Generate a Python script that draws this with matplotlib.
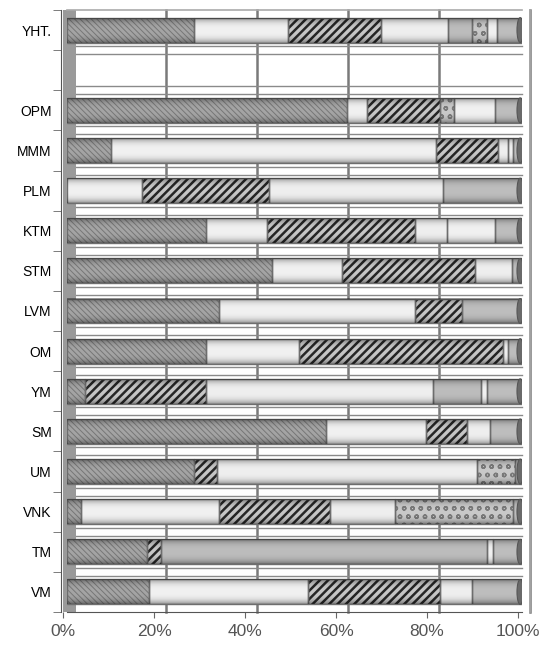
import matplotlib
matplotlib.use("Agg")
import matplotlib.pyplot as plt
import matplotlib.transforms as mtransforms
from matplotlib.patches import Rectangle, Ellipse
import numpy as np

categories = ["VM", "TM", "VNK", "UM", "SM", "YM", "OM", "LVM", "STM", "KTM",
              "PLM", "MMM", "OPM", "", "YHT."]

s1 = [18.0, 17.6, 3.0, 28.0, 57.0, 4.0, 30.6, 33.3, 45.0, 30.6, 0.0, 9.7, 61.5, 0, 28.0]
s2 = [34.9, 0.0, 30.5, 0.0, 22.0, 0.0, 20.4, 43.1, 15.4, 13.4, 16.5, 71.3, 4.5, 0, 20.5]
s3 = [29.1, 3.1, 24.2, 5.0, 9.0, 26.6, 44.8, 10.4, 29.2, 32.4, 28.0, 13.7, 16.0, 0, 20.5]
s4 = [7.0, 0.0, 14.3, 57.0, 5.0, 49.8, 1.2, 0.0, 8.2, 7.1, 38.1, 2.3, 0.0, 0, 14.7]
s5 = [0.0, 71.6, 0.0, 0.0, 0.0, 10.6, 0.0, 0.0, 0.0, 0.0, 0.0, 0.0, 0.0, 0, 5.3]
s6 = [0.0, 0.0, 26.0, 8.5, 0.0, 0.0, 0.0, 0.0, 0.0, 0.0, 0.0, 0.0, 3.0, 0, 3.3]
s7 = [0.0, 1.3, 0.0, 0.0, 0.0, 1.3, 0.0, 0.0, 0.0, 10.5, 0.0, 1.0, 9.0, 0, 2.2]
s8 = [11.0, 6.4, 2.0, 1.5, 7.0, 7.7, 3.0, 13.2, 2.2, 6.0, 17.4, 2.0, 6.0, 0, 5.5]

series = [s1, s2, s3, s4, s5, s6, s7, s8]
xticks = [0, 20, 40, 60, 80, 100]
xtick_labels = ["0%", "20%", "40%", "60%", "80%", "100%"]

styles = [
    dict(face="#a4a4a4", hatch="\\\\\\\\\\\\", hcol="#777777", hlw=0.7),
    dict(face="#f0f0f0", hatch=None, hcol="#f0f0f0", hlw=1.0),
    dict(face="#c6c6c6", hatch="////", hcol="#262626", hlw=1.8),
    dict(face="#eeeeee", hatch=None, hcol="#eeeeee", hlw=1.0),
    dict(face="#bcbcbc", hatch=None, hcol="#bcbcbc", hlw=1.0),
    dict(face="#c8c8c8", hatch="oo", hcol="#7a7a7a", hlw=1.0),
    dict(face="#f0f0f0", hatch=None, hcol="#f0f0f0", hlw=1.0),
    dict(face="#bdbdbd", hatch=None, hcol="#bdbdbd", hlw=1.0),
]

plt.rcParams["font.family"] = ["Liberation Sans", "DejaVu Sans"]

W, H, DPI = 539, 650, 100
fig = plt.figure(figsize=(W / DPI, H / DPI), dpi=DPI)
ax_l, ax_r, ax_t, ax_b = 67, 522, 10, 612
ax = fig.add_axes([ax_l / W, 1 - ax_b / H, (ax_r - ax_l) / W, (ax_b - ax_t) / H])
n = len(categories)
y = np.arange(n)

# 3D-like background: shifted gridlines
shift = mtransforms.ScaledTranslation(8 / DPI, 0, fig.dpi_scale_trans)
for v in xticks[1:]:
    ax.plot([v, v], [0, 1], color="#7a7a7a", lw=1.8, zorder=0.5,
            transform=ax.get_xaxis_transform() + shift, clip_on=False)
up = mtransforms.ScaledTranslation(0, 4 / DPI, fig.dpi_scale_trans)
dn = mtransforms.ScaledTranslation(0, -4 / DPI, fig.dpi_scale_trans)
for b in np.arange(-0.5, n, 1.0)[1:-1]:
    for off in (up, dn):
        ax.plot([0, 1], [b, b], color="#8a8a8a", lw=1.0, zorder=0.6,
                transform=ax.get_yaxis_transform() + off, clip_on=False)

# left wall
wall = Rectangle((-4 / (ax_r - ax_l), 0), 13 / (ax_r - ax_l), 1,
                 transform=ax.transAxes, facecolor="#9a9a9a", edgecolor="none",
                 zorder=0.7, clip_on=False)
ax.add_patch(wall)

left = np.zeros(n)
bh = 0.62
for vals, st in zip(series, styles):
    vals = np.array(vals, dtype=float)
    m = vals > 0
    with plt.rc_context({"hatch.linewidth": st["hlw"]}):
        bars = ax.barh(y[m], vals[m], left=left[m], height=bh, color=st["face"],
                       edgecolor=st["hcol"], hatch=st["hatch"], linewidth=0, zorder=2)
        for p in bars:
            if hasattr(p, "set_hatch_linewidth"):
                p.set_hatch_linewidth(st["hlw"])
    ax.barh(y[m], vals[m], left=left[m], height=bh, fill=False,
            edgecolor="#6e6e6e", linewidth=1.0, zorder=3)
    left = left + vals

# cylinder shading overlay and dark end caps
t = np.linspace(-1, 1, 64)
alpha = 0.38 * np.abs(t) ** 3
shade = np.zeros((64, 2, 4))
shade[..., 3] = alpha[:, None]
for yi, tot in zip(y, left):
    if tot > 0:
        ax.imshow(shade, extent=(0, tot, yi - bh / 2, yi + bh / 2), aspect="auto",
                  interpolation="bilinear", zorder=3.5)
        ax.add_patch(Ellipse((tot - 0.4, yi), 1.4, bh, facecolor="#6a6a6a",
                             edgecolor="#555555", lw=0.8, zorder=4))

ax.set_xlim(0, 100)
ax.set_ylim(-0.5, n - 0.5)
ax.set_aspect("auto")

ax.set_xticks(xticks)
ax.set_xticklabels(xtick_labels, fontsize=12.5, color="#555555")
ax.set_yticks(y)
ax.set_yticklabels(categories, fontsize=12.5, color="#555555")
ax.set_yticks(np.arange(-0.5, n, 1.0), minor=True)
ax.tick_params(axis="y", which="major", length=0, pad=7)
ax.tick_params(axis="y", which="minor", length=6, color="#666666")
ax.tick_params(axis="x", length=4, color="#666666", pad=5)

lab_off = mtransforms.ScaledTranslation(-4 / DPI, 0, fig.dpi_scale_trans)
for lab in ax.get_xticklabels():
    lab.set_transform(lab.get_transform() + lab_off)
for tk in ax.xaxis.get_major_ticks():
    tk.tick1line.set_transform(tk.tick1line.get_transform() + lab_off)

for side in ["top", "right"]:
    ax.spines[side].set_color("#aaaaaa")
    ax.spines[side].set_linewidth(1.2)
ax.spines["right"].set_transform(ax.spines["right"].get_transform() + shift)
ax.spines["left"].set_color("#555555")
ax.spines["bottom"].set_color("#555555")
ax.spines["left"].set_position(("outward", 4))

fig.savefig("out.png", dpi=DPI)
